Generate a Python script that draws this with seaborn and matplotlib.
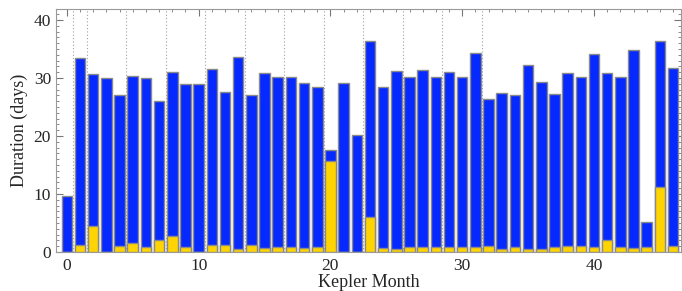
import numpy as np
import pandas as pd
from matplotlib import use
use('agg')
import matplotlib.pyplot as plt
from matplotlib.ticker import MultipleLocator
import seaborn as sns

# Kepler month durations
months = list(range(47))
total_days = [9.7, 33.45, 30.75, 29.95, 27.1, 30.3, 29.95, 26.0, 31.0, 28.9,
              28.9, 31.5, 27.6, 33.55, 27.1, 30.9, 30.1, 30.1, 29.2, 28.4,
              17.6, 29.1, 20.1, 36.4, 28.5, 31.2, 30.1, 31.4, 30.2, 31.1,
              30.2, 34.25, 26.45, 27.4, 27.1, 32.25, 29.3, 27.2, 30.9, 30.2,
              34.2, 30.8, 30.1, 34.9, 5.2, 36.3, 31.8]
gap_days = [0.0, 1.15, 4.4, 0.0, 1.0, 1.6, 0.8, 2.0, 2.75, 0.8,
            0.0, 1.15, 1.15, 0.6, 1.15, 0.65, 0.8, 0.8, 0.7, 0.8,
            15.7, 0.0, 0.0, 6.1, 0.7, 0.55, 0.8, 0.8, 0.8, 0.8,
            0.8, 0.8, 1.0, 0.6, 0.8, 0.6, 0.6, 0.8, 1.0, 1.1,
            0.8, 2.1, 0.85, 0.75, 0.8, 11.25, 1.1]
quarter_edges = [0.5, 1.5, 4.5, 7.5, 10.5, 13.5, 16.5, 19.5, 22.5, 25.5, 28.5, 31.5]

df = pd.DataFrame({'month': months, 'total': total_days, 'gap': gap_days})

sns.set_style('ticks')
plt.rcParams['font.family'] = ['Liberation Serif', 'DejaVu Serif']

fig = plt.figure(figsize=(6.82, 2.91), dpi=100)
ax = fig.add_axes([0.082, 0.134, 0.9165, 0.835])

for q in quarter_edges:
    ax.axvline(q, color='#a0a0a0', ls=(0, (1, 2)), lw=0.8, zorder=0)

sns.barplot(data=df, x='month', y='total', native_scale=True, width=0.8,
            color='#0529ff', saturation=1, edgecolor='#8a8a8a', linewidth=1.0, ax=ax, zorder=2)
sns.barplot(data=df, x='month', y='gap', native_scale=True, width=0.8,
            color='#ffd400', saturation=1, edgecolor='#8a8a8a', linewidth=1.0, ax=ax, zorder=3)

ax.set_xlim(-0.83, 46.6)
ax.set_ylim(0, 41.9)
ax.xaxis.set_major_locator(MultipleLocator(10))
ax.xaxis.set_minor_locator(MultipleLocator(1))
ax.yaxis.set_major_locator(MultipleLocator(10))
ax.yaxis.set_minor_locator(MultipleLocator(1))
ax.tick_params(which='both', direction='in', top=True, right=True, color='#777777', labelsize=12.5)
ax.tick_params(which='major', length=5, width=0.8)
ax.tick_params(which='minor', length=2.5, width=0.6)
ax.tick_params(axis='x', pad=4)
for s in ax.spines.values():
    s.set_color('#999999')
    s.set_linewidth(0.8)

ax.set_xlabel('Kepler Month', fontsize=13, labelpad=0)
ax.set_ylabel('Duration (days)', fontsize=13, labelpad=4)

plt.savefig('out.png', dpi=100)
